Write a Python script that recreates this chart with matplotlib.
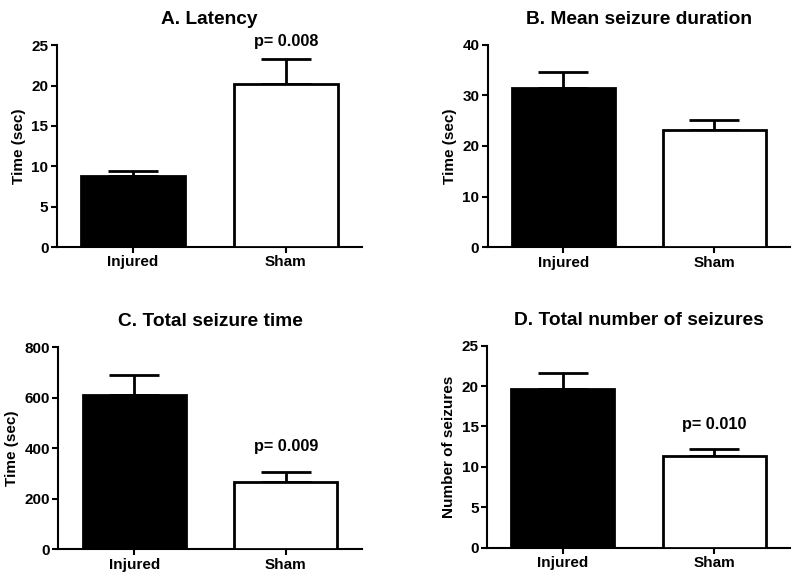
import matplotlib
matplotlib.use("Agg")
import matplotlib.pyplot as plt

plt.rcParams['font.family'] = ['Liberation Sans', 'DejaVu Sans']
plt.rcParams['font.weight'] = 'bold'

categories = ["Injured", "Sham"]

latency = [8.8, 20.2]
latency_err = [0.6, 3.15]

duration = [31.4, 23.2]
duration_err = [3.3, 1.9]

total_time = [611, 268]
total_time_err = [81, 38]

n_seizures = [19.65, 11.35]
n_seizures_err = [1.95, 0.85]

titles = ["A. Latency", "B. Mean seizure duration",
          "C. Total seizure time", "D. Total number of seizures"]
ylabels = ["Time (sec)", "Time (sec)", "Time (sec)", "Number of seizures"]
yticks = [[0, 5, 10, 15, 20, 25], [0, 10, 20, 30, 40],
          [0, 200, 400, 600, 800], [0, 5, 10, 15, 20, 25]]
pvals = ["p= 0.008", None, "p= 0.009", "p= 0.010"]
p_y = [25.5, None, 409, 15.2]

values = [latency, duration, total_time, n_seizures]
errors = [latency_err, duration_err, total_time_err, n_seizures_err]

positions = [
    [0.071, 0.574, 0.3815, 0.348],
    [0.6096, 0.5736, 0.378, 0.3494],
    [0.073, 0.0529, 0.379, 0.3483],
    [0.609, 0.0557, 0.3785, 0.3483],
]

fig = plt.figure(figsize=(8, 5.8), dpi=100)
for i in range(4):
    ax = fig.add_axes(positions[i])
    x = list(range(len(categories)))
    ax.bar(x, values[i], width=0.68, color=["black", "white"],
           edgecolor="black", linewidth=2, zorder=3)
    ax.errorbar(x, values[i], yerr=[[0] * 2, errors[i]], fmt="none",
                ecolor="black", elinewidth=2, capsize=18, capthick=2, zorder=2)
    ax.set_xlim(-0.5, 1.5)
    ax.set_ylim(yticks[i][0], yticks[i][-1])
    ax.set_yticks(yticks[i])
    ax.set_xticks(x)
    ax.set_xticklabels(categories)
    for s in ["top", "right"]:
        ax.spines[s].set_visible(False)
    for s in ["left", "bottom"]:
        ax.spines[s].set_linewidth(1.5)
    ax.tick_params(axis="both", width=1.5, length=4, labelsize=11, pad=2)
    for lab in ax.get_xticklabels() + ax.get_yticklabels():
        lab.set_fontweight("bold")
    ax.set_ylabel(ylabels[i], fontsize=11, fontweight="bold", labelpad=4)
    ax.set_title(titles[i], fontsize=13.8, fontweight="bold", pad=15)
    if pvals[i]:
        ax.text(1, p_y[i], pvals[i], ha="center", va="center",
                fontsize=11.7, fontweight="bold", clip_on=False)

fig.savefig("out.png", dpi=100)
